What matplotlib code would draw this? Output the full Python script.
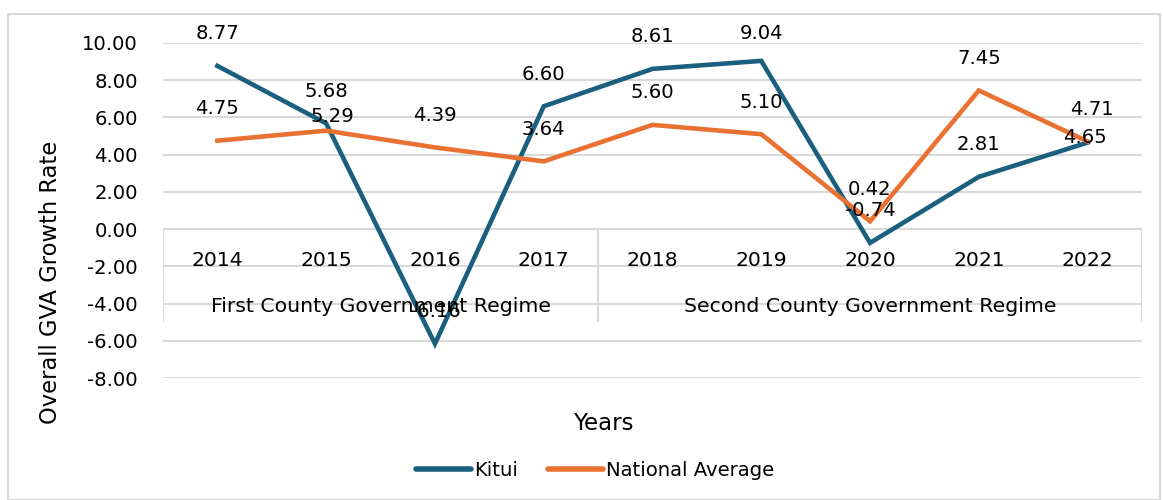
import matplotlib
matplotlib.use("Agg")
import matplotlib.pyplot as plt
from matplotlib.lines import Line2D

years = ["2014", "2015", "2016", "2017", "2018", "2019", "2020", "2021", "2022"]
regimes = ["First County Government Regime", "Second County Government Regime"]
regime_sizes = [4, 5]
kitui = [8.77, 5.68, -6.16, 6.60, 8.61, 9.04, -0.74, 2.81, 4.65]
national = [4.75, 5.29, 4.39, 3.64, 5.60, 5.10, 0.42, 7.45, 4.71]

BLUE = "#1B5F7F"
ORANGE = "#E97132"
GRID = "#D9D9D9"
FS = 14.1
FS_CAT = 14.7

plt.rcParams['font.family'] = ['DejaVu Sans']

fig = plt.figure(figsize=(11.63, 5.0), dpi=100)
ax = fig.add_axes([163/1163, 1-378/500, (1142-163)/1163, (378-43)/500])

x = list(range(len(years)))
ax.set_xlim(-0.5, len(years) - 0.5)
ax.set_ylim(-8, 10)
ax.set_yticks([-8, -6, -4, -2, 0, 2, 4, 6, 8, 10])
ax.set_yticklabels([f"{v:.2f}" for v in ax.get_yticks()], fontsize=FS)
ax.tick_params(axis='y', length=0, pad=18)
ax.set_xticks([])
for s in ax.spines.values():
    s.set_visible(False)
ax.yaxis.grid(True, color=GRID, lw=1.5)
ax.set_axisbelow(True)

# category axis box
ax.hlines(0, -0.5, len(years) - 0.5, color=GRID, lw=1.5, zorder=1)
bounds = [-0.5]
for n in regime_sizes:
    bounds.append(bounds[-1] + n)
ax.vlines(bounds, -5, 0, color=GRID, lw=1.5, zorder=1)

ax.plot(x, kitui, color=BLUE, lw=3.3, solid_joinstyle='miter', zorder=3)
ax.plot(x, national, color=ORANGE, lw=3.3, solid_joinstyle='miter', zorder=4)

# label placement nudges (points), default: centred 23pt above the point
k_nudge = {5: (0, 20), 8: (-2, 4)}
n_nudge = {1: (4.5, 10), 8: (3, 23)}
for i, v in enumerate(kitui):
    dx, dy = k_nudge.get(i, (0, 23))
    ax.annotate(f"{v:.2f}", (x[i], v), xytext=(dx, dy), textcoords='offset points',
                ha='center', va='center', fontsize=FS, zorder=5)
for i, v in enumerate(national):
    dx, dy = n_nudge.get(i, (0, 23))
    ax.annotate(f"{v:.2f}", (x[i], v), xytext=(dx, dy), textcoords='offset points',
                ha='center', va='center', fontsize=FS, zorder=5)

for xi, y in zip(x, years):
    ax.text(xi, -1.67, y, ha='center', va='center', fontsize=FS_CAT, zorder=6)
for i, r in enumerate(regimes):
    ax.text((bounds[i] + bounds[i + 1]) / 2, -4.14, r, ha='center', va='center', fontsize=FS_CAT, zorder=6)

fig.text(603/1163, 1-424/500, "Years", ha='center', va='center', fontsize=16.5)
fig.text(51/1163, 1-282/500, "Overall GVA Growth Rate", ha='center', va='center', rotation=90, fontsize=16.3)

handles = [Line2D([], [], color=BLUE, lw=4, solid_capstyle='round'),
           Line2D([], [], color=ORANGE, lw=4, solid_capstyle='round')]
fig.legend(handles, ["Kitui", "National Average"], loc='center', bbox_to_anchor=(595/1163, 1-470/500),
           ncol=2, frameon=False, fontsize=FS, handlelength=2.85, handletextpad=0.15, columnspacing=1.5)

border = plt.Rectangle((8/1163, 0), (1160-8)/1163, 1-14/500, transform=fig.transFigure,
                       fill=False, edgecolor=GRID, lw=1.5)
fig.patches.append(border)

fig.savefig("out.png", dpi=100)
